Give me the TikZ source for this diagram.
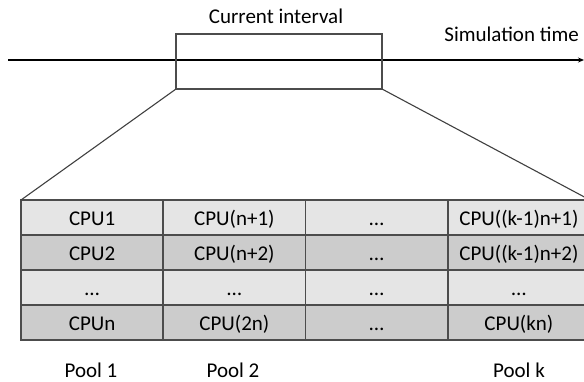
\documentclass[tikz,border=0pt]{standalone}
\usepackage{fontspec}
\setmainfont{Carlito}
\usetikzlibrary{arrows.meta}

\definecolor{gridline}{gray}{0.3}

\begin{document}
\begin{tikzpicture}[x=1pt,y=-1pt,
  font=\fontsize{21}{25}\selectfont,
  cell/.style={draw=gridline, line width=1.6pt, outer sep=0pt, inner sep=0pt,
    minimum width=142.25pt, minimum height=35pt, anchor=north west,
    text height=15pt, text depth=-6pt},
  zoomline/.style={draw=black!75, line width=1.1pt}]

\useasboundingbox (0,0) rectangle (584,381);

% time axis with the interval box on it
\coordinate (t0) at (8,60);
\coordinate (t1) at (584,60);
\draw[line width=1.6pt, -{Stealth[length=6pt,width=5pt]}] (t0) -- (t1);
\node[draw=gridline, line width=1.2pt, outer sep=0pt, inner sep=0pt,
  minimum width=206pt, minimum height=55pt] (ival) at (279,61.5) {};
\node[anchor=base] (ilabel) at (276,23) {Current interval};
\node[anchor=base east, inner xsep=0pt] (tlabel) at (579,41) {Simulation time};

% the CPU table, one pool per column
\foreach \r/\ca/\cb/\cc/\cd in {1/CPU1/{CPU(n+1)}/\ldots/{CPU((k-1)n+1)},
                                2/CPU2/{CPU(n+2)}/\ldots/{CPU((k-1)n+2)},
                                3/\ldots/\ldots/\ldots/\ldots,
                                4/CPUn/{CPU(2n)}/\ldots/{CPU(kn)}}
{
  \pgfmathtruncatemacro\shade{mod(\r,2)==1?10:20} % light / dark rows
  \foreach \col/\txt in {1/\ca,2/\cb,3/\cc,4/\cd}
    \node[cell, fill=black!\shade] (c\r\col) at ({21+142.25*(\col-1)},{200+35*(\r-1)}) {\txt};
}

% zoom lines from the interval down to the table
\draw[zoomline] (ival.south west) -- (c11.north west);
\draw[zoomline] (ival.south east) -- (c14.north east);

\node[anchor=base] (p1) at (91,377) {Pool 1};
\node[anchor=base] (p2) at (233,377) {Pool 2};
\node[anchor=base] (pk) at (519,377) {Pool k};
\end{tikzpicture}
\end{document}
